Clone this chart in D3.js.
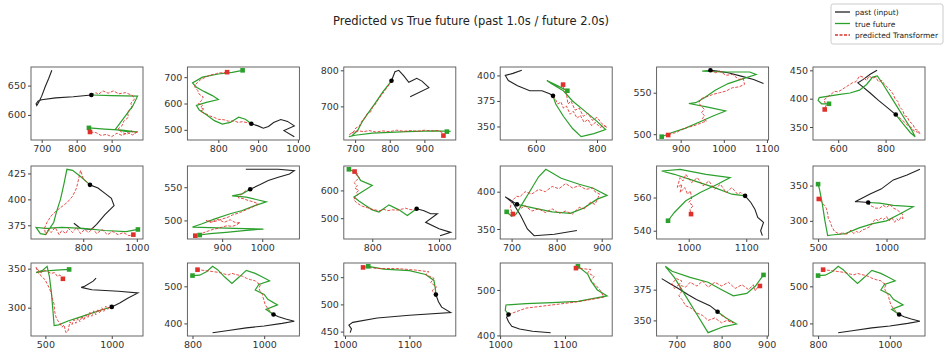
<!DOCTYPE html>
<html>
<head>
<meta charset="utf-8">
<script src="https://cdn.jsdelivr.net/npm/d3@7"></script>
<style>
  body { margin: 0; background: #fff; }
  text { font-family: "DejaVu Sans", sans-serif; }
</style>
</head>
<body>
<svg id="chart" width="946" height="353"></svg>
<script>
// labels
const titleText = "Predicted vs True future (past 1.0s / future 2.0s)";
const legendLabels = ["past (input)", "true future", "predicted Transformer"];

// sample 1
const past1 = [[729,676],[720,662],[710,648],[700,632],[692,622],[686,616],[684,619],[690,624],[700,626],[740,629],[790,631],[842,634]];
const true1 = [[842,634],[900,633],[974,632],[960,615],[935,595],[910,575],[940,572],[975,571],[930,574],[880,576],[835,578]];
const pred1 = [[842,634],[855,638],[862,635],[875,641],[890,637],[905,641],[920,636],[940,638],[960,633],[965,627],[955,620],[958,612],[945,605],[948,596],[935,590],[930,582],[918,576],[930,570],[945,567],[955,573],[965,569],[975,572],[960,566],[945,570],[930,565],[915,569],[900,563],[885,567],[870,565],[855,570],[838,571]];
// sample 2
const past2 = [[991,474],[965,497],[991,515],[974,532],[957,539],[939,528],[926,513],[913,506],[900,515],[883,523]];
const true2 = [[883,523],[868,540],[851,548],[830,528],[810,522],[790,535],[770,557],[752,575],[745,593],[770,604],[800,615],[785,630],[765,645],[745,662],[735,678],[760,700],[800,712],[835,718],[861,726]];
const pred2 = [[883,523],[870,528],[860,531],[850,528],[840,534],[825,533],[815,538],[800,540],[790,547],[778,553],[770,560],[760,566],[755,572],[765,578],[755,585],[760,593],[750,600],[758,612],[762,625],[752,635],[748,650],[742,660],[740,668],[748,680],[755,690],[768,700],[780,708],[795,713],[800,716],[812,717],[822,719]];
// sample 3
const past3 = [[859,727],[913,752],[893,770],[878,778],[855,767],[840,785],[826,800],[815,796],[805,771]];
const true3 = [[805,771],[780,740],[760,712],[740,685],[722,660],[707,633],[690,618],[682,616],[700,620],[750,626],[850,630],[930,632],[976,631],[965,630]];
const pred3 = [[805,771],[798,760],[792,752],[783,740],[775,730],[766,718],[758,705],[750,697],[745,685],[735,680],[728,668],[720,660],[712,645],[702,640],[695,628],[688,625],[684,622],[695,629],[710,632],[725,630],[740,633],[760,629],[780,632],[800,630],[820,634],[840,631],[860,633],[880,631],[900,634],[920,632],[940,633],[950,628],[955,619]];
// sample 4
const past4 = [[554,405],[525,402],[500,400],[510,395],[540,390],[580,385],[620,385],[645,382],[656,380]];
const true4 = [[656,380],[665,372],[690,360],[720,348],[748,340],[790,343],[828,347],[800,355],[760,365],[720,375],[690,385],[650,392],[636,395],[670,390],[703,385]];
const pred4 = [[656,380],[665,376],[672,372],[682,374],[690,368],[700,370],[712,362],[722,365],[735,358],[745,361],[758,354],[770,357],[782,351],[795,354],[810,349],[822,351],[833,349],[815,353],[800,359],[785,356],[770,363],[755,360],[742,368],[728,366],[715,375],[705,372],[700,382],[692,386],[689,391]];
// sample 5
const past5 = [[1092,561],[1069,566],[1040,570],[1010,574],[985,576],[969,577]];
const true5 = [[969,577],[950,576],[1000,575],[1060,575],[1075,572],[1045,567],[1010,561],[980,553],[955,544],[935,538],[919,537],[960,533],[1004,528],[975,522],[945,515],[910,507],[880,502],[856,497]];
const pred5 = [[969,577],[980,574],[990,576],[1005,571],[1020,572],[1035,566],[1045,567],[1048,560],[1035,557],[1020,556],[1005,552],[990,550],[975,548],[960,545],[948,543],[942,538],[947,534],[955,530],[948,526],[956,522],[950,519],[960,516],[945,513],[930,510],[915,508],[900,505],[890,502],[880,501],[871,499]];
// sample 6
const past6 = [[764,450],[735,443],[706,434],[683,428],[700,422],[735,410],[770,397],[800,387],[843,372]];
const true6 = [[843,372],[875,355],[905,340],[925,333],[910,345],[880,365],[850,385],[820,405],[790,425],[765,440],[745,438],[720,425],[690,415],[650,410],[600,407],[520,402],[515,397],[530,391],[561,391]];
const pred6 = [[843,372],[855,368],[870,362],[882,358],[895,352],[910,349],[920,343],[935,341],[945,338],[938,344],[925,346],[915,355],[900,360],[892,368],[880,370],[872,380],[860,385],[852,395],[840,400],[832,408],[820,415],[808,420],[795,425],[785,432],[770,430],[758,438],[745,436],[730,440],[720,432],[705,438],[690,440],[675,430],[660,428],[645,424],[630,420],[615,416],[600,412],[585,413],[570,408],[555,403],[540,398],[545,392],[550,390],[543,381]];
// sample 7
const past7 = [[765,377],[790,372],[830,371],[850,376],[880,385],[915,394],[905,401],[880,406],[855,411],[825,414]];
const true7 = [[825,414],[790,422],[760,428],[739,429],[728,415],[715,400],[700,388],[690,378],[675,372],[660,366],[640,367],[624,373],[660,372],[720,373],[800,372],[880,370],[960,369],[1004,371]];
const pred7 = [[825,414],[800,420],[790,428],[783,420],[775,411],[760,403],[740,397],[720,393],[700,389],[680,384],[665,378],[655,372],[660,366],[670,371],[680,368],[695,373],[710,366],[720,370],[735,367],[745,372],[760,368],[775,373],[790,367],[805,371],[820,368],[835,372],[850,367],[870,371],[890,366],[910,369],[930,366],[950,368],[970,365],[987,366]];
// sample 8
const past8 = [[959,577],[990,577],[1040,577],[1080,575],[1068,570],[1040,565],[1015,560],[995,554],[970,547]];
const true8 = [[970,547],[950,540],[925,537],[960,535],[1010,528],[980,522],[950,515],[920,510],[880,502],[850,495],[826,490],[870,489],[930,488],[1003,487],[960,485],[910,482],[870,480],[844,478]];
const pred8 = [[970,547],[960,545],[955,543],[945,538],[940,534],[952,533],[965,530],[978,528],[990,525],[975,520],[960,516],[945,512],[925,508],[915,505],[900,502],[885,499],[870,497],[860,500],[875,498],[890,502],[905,497],[920,501],[935,496],[945,497],[935,493],[925,491],[912,492],[900,490],[890,488],[880,487],[870,485],[860,483],[852,481],[845,480],[833,477]];
// sample 9
const past9 = [[1003,437],[1035,449],[1000,462],[960,485],[995,516],[975,516],[955,527],[933,534]];
const true9 = [[933,534],[905,510],[880,530],[850,548],[820,522],[800,530],[780,546],[760,562],[745,576],[770,595],[800,618],[780,628],[765,636],[755,655],[745,668],[730,676]];
const pred9 = [[933,534],[920,530],[910,532],[900,536],[890,533],[875,529],[860,530],[845,527],[835,532],[820,526],[810,530],[795,533],[785,538],[770,543],[760,550],[752,557],[745,566],[748,575],[757,585],[752,592],[760,600],[748,608],[755,618],[745,628],[752,636],[762,645],[752,655],[757,662],[747,668]];
// sample 10
const past10 = [[845,348],[795,343],[750,341],[735,350],[720,368],[703,385],[686,393],[700,388],[712,383]];
const true10 = [[712,383],[750,378],[790,373],[830,371],[860,378],[890,390],[912,395],[880,405],[850,410],[810,418],[776,430],[760,420],[740,400],[725,385],[710,370],[700,367],[689,373]];
const pred10 = [[712,383],[722,378],[730,381],[745,374],[760,377],[775,372],[790,377],[805,371],[820,374],[835,370],[850,379],[862,377],[875,386],[885,383],[892,392],[895,397],[885,400],[880,405],[865,403],[850,408],[835,405],[820,411],[805,404],[790,407],[775,400],[760,403],[745,397],[730,400],[718,393],[711,394],[700,387],[697,378],[703,370]];
// sample 11
const past11 = [[1128,537],[1125,540],[1130,545],[1120,548],[1115,553],[1108,557],[1098,561]];
const true11 = [[1098,561],[1075,562],[1045,566],[1010,570],[975,574],[953,576],[985,577],[1030,574],[1072,572],[1050,568],[1020,563],[995,558],[975,551],[964,546]];
const pred11 = [[1098,561],[1090,563],[1085,562],[1075,566],[1065,563],[1055,568],[1045,565],[1035,570],[1025,567],[1015,572],[1005,569],[995,574],[990,570],[985,572],[980,566],[988,568],[985,563],[993,566],[998,562],[1003,564],[1005,559],[1000,557],[1008,555],[1002,553],[1004,550]];
// sample 12
const past12 = [[1244,373],[1150,365],[1050,358],[960,345],[880,338],[820,332],[770,327],[800,327],[866,326]];
const true12 = [[866,326],[950,325],[1050,322],[1195,320],[1100,310],[1000,300],[900,296],[800,290],[700,282],[600,280],[570,279],[550,300],[530,325],[510,345],[500,352]];
const pred12 = [[866,326],[880,322],[900,320],[920,318],[950,318],[975,322],[1000,319],[1025,323],[1050,318],[1075,316],[1100,312],[1115,310],[1120,303],[1105,305],[1090,300],[1075,303],[1060,298],[1040,304],[1020,300],[1000,306],[980,302],[960,304],[940,300],[920,303],[900,298],[880,292],[860,290],[840,288],[820,287],[800,283],[780,285],[760,282],[740,287],[720,283],[700,280],[680,284],[660,281],[640,283],[620,285],[600,292],[590,298],[575,303],[570,310],[560,318],[545,322],[530,326],[520,328],[505,331]];
// sample 13
const past13 = [[882,338],[860,334],[790,327],[770,326],[850,323],[950,322],[1050,321],[1197,319],[1120,312],[1060,306],[1000,301]];
const true13 = [[1000,301],[920,297],[850,293],[760,288],[670,283],[600,278],[566,277],[555,300],[545,320],[530,340],[513,353],[480,348],[430,345],[500,347],[580,348],[679,349]];
const pred13 = [[1000,301],[985,303],[970,298],[955,302],[940,295],[925,300],[910,293],[895,298],[880,291],[865,296],[850,289],[835,294],[820,287],[805,291],[790,284],[775,289],[760,282],[745,287],[730,280],[715,285],[700,278],[685,282],[670,270],[655,268],[640,278],[625,275],[610,280],[595,283],[580,288],[570,295],[565,305],[555,310],[545,318],[530,325],[515,330],[500,335],[485,338],[470,340],[455,344],[440,345],[430,352],[450,347],[470,345],[490,348],[520,346],[545,344],[570,345],[590,340],[610,342],[632,337]];
// sample 14 (and 18)
const past14 = [[856,375],[900,381],[950,388],[1000,393],[1050,400],[1084,406],[1060,412],[1040,418],[1026,424]];
const true14 = [[1026,424],[1005,438],[1037,450],[1010,465],[1000,478],[975,490],[985,505],[1015,515],[995,525],[975,535],[950,543],[930,525],[910,508],[890,525],[870,545],[856,554],[840,540],[820,530],[800,529]];
const pred14 = [[1026,424],[1010,440],[1003,450],[1000,460],[997,470],[995,478],[988,488],[985,495],[990,505],[980,510],[975,515],[962,518],[950,522],[940,527],[930,530],[920,532],[910,535],[900,531],[890,533],[880,536],[870,538],[855,540],[840,542],[814,545]];
// sample 15
const past15 = [[1008,448],[1010,455],[1006,462],[1012,467],[1050,475],[1100,480],[1164,485],[1150,495],[1145,505],[1141,518]];
const true15 = [[1141,518],[1140,530],[1138,544],[1125,555],[1100,562],[1060,565],[1036,570]];
const pred15 = [[1141,518],[1135,525],[1142,532],[1133,540],[1138,548],[1125,555],[1130,560],[1110,563],[1080,566],[1050,566],[1030,569],[1028,568]];
// sample 16
const past16 = [[1078,406],[1050,409],[1030,414],[1018,420],[1013,430],[1010,440],[1013,446]];
const true16 = [[1013,446],[1008,455],[1009,467],[1040,470],[1080,472],[1120,475],[1165,487],[1150,500],[1140,520],[1135,535],[1120,552]];
const pred16 = [[1013,446],[1040,460],[1080,467],[1120,474],[1160,484],[1155,498],[1148,510],[1140,520],[1145,530],[1135,538],[1140,545],[1117,548]];
// sample 17
const past17 = [[667,384],[685,380],[704,376],[725,371],[744,367],[774,362],[791,357]];
const true17 = [[791,357],[810,352],[833,347],[805,345],[770,340],[745,355],[720,370],[695,385],[675,394],[690,390],[730,385],[770,381],[800,375],[826,370],[856,372],[875,378],[893,387]];
const pred17 = [[791,357],[800,354],[810,352],[818,349],[826,348],[812,350],[800,348],[785,352],[770,350],[758,354],[745,356],[732,360],[720,362],[712,367],[705,370],[712,374],[705,379],[712,382],[700,384],[690,380],[695,376],[705,379],[720,377],[730,381],[745,378],[758,382],[770,377],[785,381],[800,378],[815,381],[830,376],[845,379],[860,375],[870,379],[875,374],[880,377],[885,378]];

// tick labels per subplot
const xTicks = [[700,800,900],[800,900,1000],[700,800,900],[600,800],[900,1000,1100],[600,800],
                [800,1000],[900,1000],[800,1000],[700,800,900],[1000,1100],[500,1000],
                [500,1000],[800,1000],[1000,1100],[1000,1100],[700,800,900],[800,1000]];
const yTicks = [[600,650],[500,600,700],[700,800],[350,375,400],[500,550],[350,400,450],
                [375,400,425],[500,550],[500,600],[350,400],[540,560],[300,350],
                [300,350],[400,500],[450,500,550],[400,500],[350,375],[400,500]];

const samples = [
  {past: past1, truth: true1, pred: pred1}, {past: past2, truth: true2, pred: pred2},
  {past: past3, truth: true3, pred: pred3}, {past: past4, truth: true4, pred: pred4},
  {past: past5, truth: true5, pred: pred5}, {past: past6, truth: true6, pred: pred6},
  {past: past7, truth: true7, pred: pred7}, {past: past8, truth: true8, pred: pred8},
  {past: past9, truth: true9, pred: pred9}, {past: past10, truth: true10, pred: pred10},
  {past: past11, truth: true11, pred: pred11}, {past: past12, truth: true12, pred: pred12},
  {past: past13, truth: true13, pred: pred13}, {past: past14, truth: true14, pred: pred14},
  {past: past15, truth: true15, pred: pred15}, {past: past16, truth: true16, pred: pred16},
  {past: past17, truth: true17, pred: pred17}, {past: past14, truth: true14, pred: pred14}
];

const svg = d3.select("#chart");
const cols = 6, w = 112, h = 73;
const colX = d3.scaleLinear().domain([0, cols - 1]).range([31, 813]);
const rowY = [67, 166, 263];

const colors = { past: "#222", truth: "#2ca02c", pred: "#e0302c" };

svg.append("text")
  .attr("x", 471).attr("y", 25)
  .attr("text-anchor", "middle")
  .attr("font-size", 11.5)
  .attr("fill", "#222")
  .text(titleText);

samples.forEach((s, i) => {
  const g = svg.append("g")
    .attr("transform", "translate(" + colX(i % cols) + "," + rowY[Math.floor(i / cols)] + ")");
  const all = s.past.concat(s.truth, s.pred);
  const xe = d3.extent(all, d => d[0]), ye = d3.extent(all, d => d[1]);
  const xp = (xe[1] - xe[0]) * 0.05, yp = (ye[1] - ye[0]) * 0.05;
  const x = d3.scaleLinear().domain([xe[0] - xp, xe[1] + xp]).range([0, w]);
  const y = d3.scaleLinear().domain([ye[0] - yp, ye[1] + yp]).range([h, 0]);
  const line = d3.line().x(d => x(d[0])).y(d => y(d[1]));

  g.append("path").datum(s.past).attr("d", line)
    .attr("fill", "none").attr("stroke", colors.past).attr("stroke-width", 1.1);
  g.append("path").datum(s.truth).attr("d", line)
    .attr("fill", "none").attr("stroke", colors.truth).attr("stroke-width", 1.2);
  g.append("path").datum(s.pred).attr("d", line)
    .attr("fill", "none").attr("stroke", colors.pred).attr("stroke-width", 1)
    .attr("stroke-dasharray", "3,1.5").attr("opacity", 0.85);

  const lastPast = s.past[s.past.length - 1];
  g.append("circle").attr("cx", x(lastPast[0])).attr("cy", y(lastPast[1]))
    .attr("r", 2.3).attr("fill", "#000");
  [[s.truth, colors.truth], [s.pred, colors.pred]].forEach(([arr, c]) => {
    const p = arr[arr.length - 1];
    g.append("rect").attr("x", x(p[0]) - 2.3).attr("y", y(p[1]) - 2.3)
      .attr("width", 4.6).attr("height", 4.6).attr("fill", c);
  });

  const xa = g.append("g").attr("transform", "translate(0," + h + ")")
    .call(d3.axisBottom(x).tickValues(xTicks[i]).tickSize(3).tickPadding(2).tickFormat(d3.format("d")));
  const ya = g.append("g")
    .call(d3.axisLeft(y).tickValues(yTicks[i]).tickSize(3).tickPadding(2).tickFormat(d3.format("d")));
  [xa, ya].forEach(a => {
    a.select(".domain").remove();
    a.selectAll("line").attr("stroke", "#444");
    a.selectAll("text").attr("font-size", 9.5).attr("fill", "#333")
      .attr("font-family", "'DejaVu Sans', sans-serif");
  });

  g.append("rect").attr("width", w).attr("height", h)
    .attr("fill", "none").attr("stroke", "#555").attr("stroke-width", 0.9);
});

// legend
const lg = svg.append("g").attr("transform", "translate(831,4)");
lg.append("rect").attr("width", 112).attr("height", 40).attr("rx", 2)
  .attr("fill", "#fff").attr("stroke", "#ccc");
const lstyles = [[colors.past, null], [colors.truth, null], [colors.pred, "3,1.5"]];
legendLabels.forEach((lab, k) => {
  const yy = 8 + k * 11.5;
  lg.append("line").attr("x1", 4).attr("x2", 19).attr("y1", yy).attr("y2", yy)
    .attr("stroke", lstyles[k][0]).attr("stroke-width", 1.3)
    .attr("stroke-dasharray", lstyles[k][1]);
  lg.append("text").attr("x", 24).attr("y", yy + 3)
    .attr("font-size", 7.5).attr("fill", "#222").text(lab);
});
</script>
</body>
</html>
